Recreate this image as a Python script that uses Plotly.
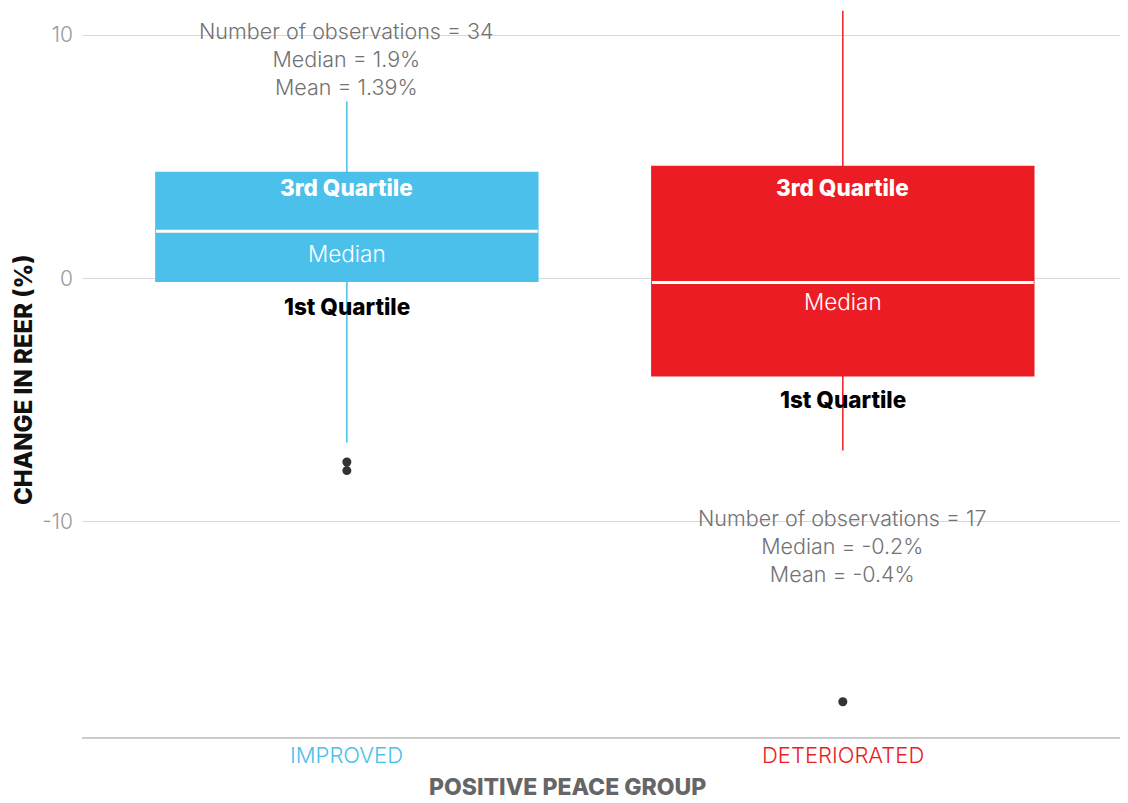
import plotly.graph_objects as go

# --- data ---
groups = ["IMPROVED", "DETERIORATED"]
group_colors = ["#4BC0EB", "#EC1C24"]
q1 = [-0.12, -4.0]
median = [1.93, -0.17]
q3 = [4.35, 4.6]
lower_fence = [-6.75, -7.08]
upper_fence = [7.27, 11.0]
outliers = [[-7.55, -7.9], [-17.4]]

stats_text = [
    "Number of observations = 34<br>Median = 1.9%<br>Mean = 1.39%",
    "Number of observations = 17<br>Median = -0.2%<br>Mean = -0.4%",
]
stats_mid_y = [9.0, -11.0]
q3_label_y = [3.75, 3.75]
median_label_y = [1.04, -0.97]
q1_label_y = [-1.14, -4.96]

BOX_W = 0.77
FONT = "Inter"

fig = go.Figure()

for i, g in enumerate(groups):
    c = group_colors[i]
    fig.add_trace(go.Box(
        x=[i], q1=[q1[i]], median=[median[i]], q3=[q3[i]],
        lowerfence=[lower_fence[i]], upperfence=[upper_fence[i]],
        width=BOX_W, whiskerwidth=0,
        fillcolor=c, line=dict(color=c, width=1.5),
        boxpoints=False, showlegend=False, hoverinfo="skip",
    ))
    # white median line
    fig.add_trace(go.Scatter(
        x=[i - BOX_W / 2, i + BOX_W / 2], y=[median[i], median[i]],
        mode="lines", line=dict(color="white", width=3),
        showlegend=False, hoverinfo="skip",
    ))
    # outliers
    fig.add_trace(go.Scatter(
        x=[i] * len(outliers[i]), y=outliers[i], mode="markers",
        marker=dict(color="#333333", size=9),
        showlegend=False, hoverinfo="skip",
    ))

    fig.add_annotation(x=i, y=stats_mid_y[i], text=stats_text[i], showarrow=False,
                       font=dict(family=FONT, size=21.5, color="#727272", weight=300),
                       xanchor="center", yanchor="middle")
    fig.add_annotation(x=i, y=q3_label_y[i], text="3rd Quartile", showarrow=False,
                       font=dict(family=FONT, size=22.5, color="white", weight=800))
    fig.add_annotation(x=i, y=median_label_y[i], text="Median", showarrow=False,
                       font=dict(family=FONT, size=22.5, color="white", weight=300))
    fig.add_annotation(x=i, y=q1_label_y[i], text="1st Quartile", showarrow=False,
                       font=dict(family=FONT, size=22.5, color="black", weight=800))
    # category label
    fig.add_annotation(x=i, y=-0.0247, xref="x", yref="paper", text=g, showarrow=False,
                       yanchor="middle", font=dict(family=FONT, size=22, color=c, weight=300))

# axis titles
fig.add_annotation(x=0.4637, y=-0.0905, xref="paper", yref="paper",
                   text="POSITIVE PEACE GROUP", showarrow=False, yanchor="bottom",
                   font=dict(family=FONT, size=23, color="#666666", weight=800))
fig.add_annotation(x=-0.0552, y=0.49, xref="paper", yref="paper",
                   text="CHANGE IN REER (%)", showarrow=False, textangle=-90,
                   xanchor="center", yanchor="middle",
                   font=dict(family=FONT, size=24, color="#111111", weight=800))

fig.update_layout(
    width=1120, height=795,
    margin=dict(l=74, r=0, t=0, b=66, autoexpand=False),
    plot_bgcolor="white", paper_bgcolor="white",
    font=dict(family=FONT),
    xaxis=dict(range=[-0.534, 1.575], showticklabels=False, showgrid=False,
               zeroline=False, showline=True, linecolor="#cccccc", linewidth=1.5),
    yaxis=dict(range=[-18.85, 11.11], tickvals=[-10, 0, 10], ticktext=["-10", "0", "10"],
               showgrid=True, gridcolor="#d9d9d9", gridwidth=1.2, zeroline=False,
               tickfont=dict(family=FONT, size=21, color="#9a9a9a", weight=300),
               ticks="", ticklabelstandoff=8),
)

fig.write_html("out.html")
